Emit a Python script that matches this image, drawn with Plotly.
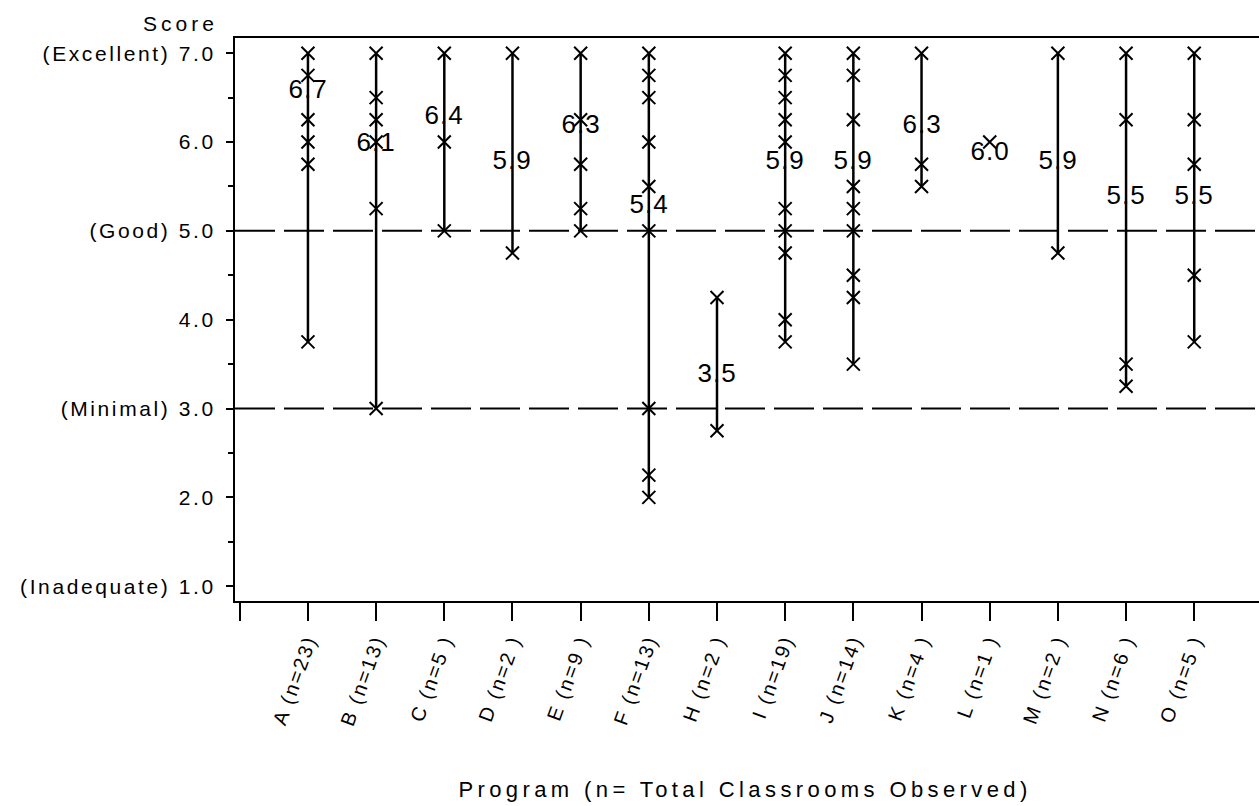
import plotly.graph_objects as go

# Programs, classroom counts and observed scores
programs = ["A", "B", "C", "D", "E", "F", "H", "I", "J", "K", "L", "M", "N", "O"]
n_classrooms = [23, 13, 5, 2, 9, 13, 2, 19, 14, 4, 1, 2, 6, 5]
program_means = [6.7, 6.1, 6.4, 5.9, 6.3, 5.4, 3.5, 5.9, 5.9, 6.3, 6.0, 5.9, 5.5, 5.5]

scores_A = [7.0, 6.75, 6.25, 6.0, 5.75, 3.75]
scores_B = [7.0, 6.5, 6.25, 6.0, 5.25, 3.0]
scores_C = [7.0, 6.0, 5.0]
scores_D = [7.0, 4.75]
scores_E = [7.0, 6.25, 5.75, 5.25, 5.0]
scores_F = [7.0, 6.75, 6.5, 6.0, 5.5, 5.0, 3.0, 2.25, 2.0]
scores_H = [4.25, 2.75]
scores_I = [7.0, 6.75, 6.5, 6.25, 6.0, 5.25, 5.0, 4.75, 4.0, 3.75]
scores_J = [7.0, 6.75, 6.25, 5.5, 5.25, 5.0, 4.5, 4.25, 3.5]
scores_K = [7.0, 5.75, 5.5]
scores_L = [6.0]
scores_M = [7.0, 4.75]
scores_N = [7.0, 6.25, 3.5, 3.25]
scores_O = [7.0, 6.25, 5.75, 4.5, 3.75]

all_scores = [scores_A, scores_B, scores_C, scores_D, scores_E, scores_F, scores_H,
              scores_I, scores_J, scores_K, scores_L, scores_M, scores_N, scores_O]

x_tick_labels = ["A (n=23)", "B (n=13)", "C (n=5 )", "D (n=2 )", "E (n=9 )", "F (n=13)",
                 "H (n=2 )", "I (n=19)", "J (n=14)", "K (n=4 )", "L (n=1 )", "M (n=2 )",
                 "N (n=6 )", "O (n=5 )"]

y_tick_values = [1, 2, 3, 4, 5, 6, 7]
y_tick_labels = ["(Inadequate) 1.0", "2.0", "(Minimal) 3.0", "4.0", "(Good) 5.0", "6.0",
                 "(Excellent) 7.0"]
y_minor_values = [1.5, 2.5, 3.5, 4.5, 5.5, 6.5]
reference_levels = [5.0, 3.0]

AXIS_FONT = "Liberation Sans, Arial, sans-serif"

# Range lines (min to max) and score markers for each program
line_x, line_y, mark_x, mark_y = [], [], [], []
for i, vals in enumerate(all_scores):
    pos = i + 1
    line_x += [pos, pos, None]
    line_y += [min(vals), max(vals), None]
    mark_x += [pos] * len(vals)
    mark_y += vals

fig = go.Figure()
fig.add_trace(go.Scatter(x=line_x, y=line_y, mode="lines",
                         line=dict(color="black", width=2.5),
                         hoverinfo="skip", showlegend=False))
fig.add_trace(go.Scatter(x=mark_x, y=mark_y, mode="markers",
                         marker=dict(symbol="x-thin", size=13,
                                     line=dict(color="black", width=2)),
                         showlegend=False))

# Dashed quality thresholds
for lvl in reference_levels:
    fig.add_shape(type="line", xref="paper", x0=0, x1=1, yref="y", y0=lvl, y1=lvl,
                  line=dict(color="black", width=2, dash="40px,9px"), layer="below")

annotations = [
    dict(text="Score", xref="paper", yref="paper", x=-0.0537, y=1.0249,
         xanchor="center", yanchor="middle", showarrow=False,
         font=dict(family=AXIS_FONT, size=21, color="black")),
    dict(text="Program (n= Total Classrooms Observed)", xref="paper", yref="paper",
         x=0.498, y=-0.3357, xanchor="center", yanchor="middle", showarrow=False,
         font=dict(family=AXIS_FONT, size=22, color="black")),
]
for i, m in enumerate(program_means):
    annotations.append(dict(text=f"{m:.1f}", x=i + 1, y=m, xref="x", yref="y",
                            showarrow=False, xanchor="center", yanchor="middle",
                            yshift=-9,
                            font=dict(family=AXIS_FONT, size=26, color="black")))

fig.update_layout(
    width=1259, height=806,
    margin=dict(l=235, r=0, t=38, b=205),
    paper_bgcolor="white", plot_bgcolor="white",
    annotations=annotations,
    xaxis=dict(range=[-0.07, 14.95], tickmode="array",
               tickvals=list(range(0, len(programs) + 1)),
               ticktext=[""] + x_tick_labels,
               tickangle=-70, ticks="outside", ticklen=18, tickwidth=2,
               tickcolor="black", showline=True, linewidth=2, linecolor="black",
               mirror=True, showgrid=False, zeroline=False,
               tickfont=dict(family=AXIS_FONT, size=20, color="black")),
    yaxis=dict(range=[0.833, 7.171], tickmode="array", tickvals=y_tick_values,
               ticktext=y_tick_labels, ticks="outside", ticklen=7, tickwidth=2,
               tickcolor="black", showline=True, linewidth=2, linecolor="black",
               showgrid=False, zeroline=False, ticklabelstandoff=6,
               minor=dict(tickvals=y_minor_values, ticks="outside", ticklen=5,
                          tickwidth=2, tickcolor="black", showgrid=False),
               tickfont=dict(family=AXIS_FONT, size=21, color="black")),
)

# Wide letter spacing for the axis lettering
spacing_css = (
    ".ytick text{letter-spacing:2.6px}"
    ".xtick text{letter-spacing:2.2px}"
    ".annotation text{letter-spacing:1px}"
    ".annotation[data-index='0'] text{letter-spacing:4px}"
    ".annotation[data-index='1'] text{letter-spacing:4.4px}"
)
post_js = ("var s=document.createElement('style');s.textContent=\"" + spacing_css +
           "\";document.head.appendChild(s);")

fig.write_html("out.html", post_script=post_js)
